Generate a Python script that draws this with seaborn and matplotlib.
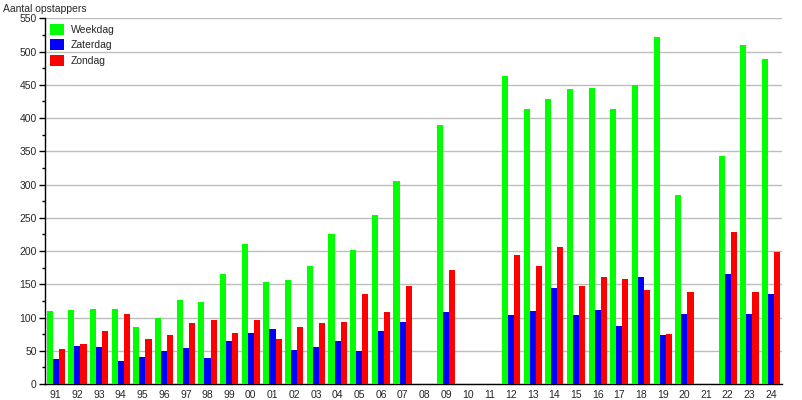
import pandas as pd
import numpy as np
import matplotlib
matplotlib.use('Agg')
import matplotlib.pyplot as plt
from matplotlib.ticker import MultipleLocator
import seaborn as sns

# Jaren (labels op de x-as)
years = ['91', '92', '93', '94', '95', '96', '97', '98', '99',
         '00', '01', '02', '03', '04', '05', '06', '07', '08', '09',
         '10', '11', '12', '13', '14', '15', '16', '17', '18', '19',
         '20', '21', '22', '23', '24']

# Aantal opstappers per daggroep (NaN = geen telling)
weekdag = [110, 112, 113, 113, 85, 99, 126, 123, 165,
           210, 154, 157, 177, 225, 202, 254, 306, np.nan, 389,
           np.nan, np.nan, 463, 413, 428, 444, 446, 413, 450, 522,
           284, np.nan, 343, 510, 489]
zaterdag = [37, 57, 56, 34, 41, 50, 54, 39, 64,
            77, 83, 51, 56, 64, 49, 79, 94, np.nan, 108,
            np.nan, np.nan, 104, 110, 144, 104, 111, 88, 161, 73,
            106, np.nan, 166, 105, 136]
zondag = [52, 60, 79, 106, 68, 74, 92, 97, 77,
          96, 68, 86, 92, 93, 136, 108, 147, np.nan, 172,
          np.nan, np.nan, 194, 178, 206, 148, 161, 158, 141, 75,
          138, np.nan, 228, 138, 199]

series = ['Weekdag', 'Zaterdag', 'Zondag']
colors = ['#00ff00', '#0000ff', '#ff0000']

df = pd.DataFrame({'jaar': years, 'Weekdag': weekdag,
                   'Zaterdag': zaterdag, 'Zondag': zondag})
df = df.melt(id_vars='jaar', var_name='dag', value_name='aantal')

sns.set_style('white')
plt.rcParams['font.family'] = ['Liberation Sans', 'DejaVu Sans']

fig = plt.figure(figsize=(8.02, 4.0), dpi=100)
ax = fig.add_axes([0.056, 0.04, 0.919, 0.914])

sns.barplot(data=df, x='jaar', y='aantal', hue='dag', order=years,
            hue_order=series, palette=colors, saturation=1,
            width=0.84, errorbar=None, ax=ax, zorder=3, linewidth=0)

ax.set_xlim(-0.5, len(years) - 0.5)
ax.set_ylim(0, 550)
ax.yaxis.set_major_locator(MultipleLocator(50))
ax.yaxis.set_minor_locator(MultipleLocator(25))
ax.grid(axis='y', which='major', color='#bdbdbd', linewidth=1, zorder=0)
ax.set_axisbelow(True)

for side in ['top', 'right']:
    ax.spines[side].set_visible(False)
ax.spines['left'].set_color('black')
ax.spines['bottom'].set_color('black')
ax.spines['left'].set_linewidth(1)
ax.spines['bottom'].set_linewidth(1)

ax.tick_params(axis='y', which='major', left=True, length=4, width=1,
               labelsize=7.5, pad=2, color='black')
ax.tick_params(axis='y', which='minor', left=True, length=2, width=1,
               color='black')
ax.tick_params(axis='x', bottom=False, labelsize=7.5, pad=1)

ax.set_xlabel('')
ax.set_ylabel('')
fig.text(0.004, 0.978, 'Aantal opstappers', fontsize=7.5, ha='left', va='center')

leg = ax.legend(loc='upper left', frameon=False, fontsize=7.5,
                handlelength=1.3, handleheight=1.3, handletextpad=0.7,
                labelspacing=0.4, borderaxespad=0.1)

fig.savefig('out.png', dpi=100)
